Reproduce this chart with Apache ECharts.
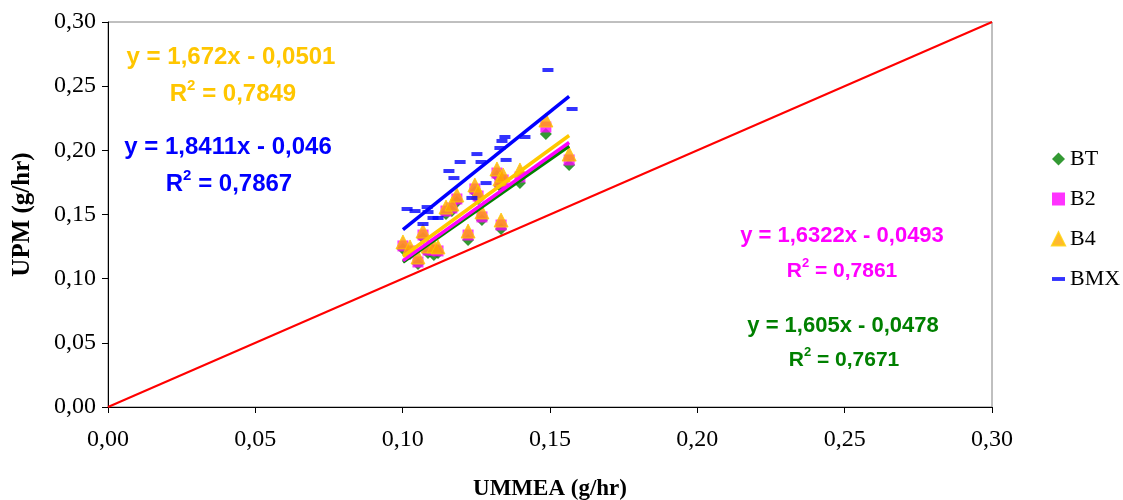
<!DOCTYPE html>
<html>
<head>
<meta charset="utf-8">
<script src="https://cdn.jsdelivr.net/npm/echarts@6/dist/echarts.min.js"></script>
<style>html,body{margin:0;padding:0;background:#fff}#c{width:1123px;height:500px}</style>
</head>
<body>
<div id="c"></div>
<script>
// ---- data ----
const seriesNames = ['BT', 'B2', 'B4', 'BMX'];
const ummea = [0.1001,0.1025,0.1052,0.1069,0.1086,0.1106,0.1120,0.1147,0.1167,0.1184,0.1222,0.1245,0.1256,0.1269,0.1320,0.1330,0.1341,0.1334,0.1398,0.1486,0.1565];
const upmBT = [0.1231,0.1192,0.1114,0.1317,0.1200,0.1184,0.1200,0.1504,0.1527,0.1597,0.1301,0.1675,0.1621,0.1457,0.1800,0.1722,0.1722,0.1387,0.1745,0.2127,0.1886];
const upmB2 = [0.1255,0.1216,0.1130,0.1340,0.1223,0.1223,0.1216,0.1527,0.1551,0.1621,0.1340,0.1699,0.1644,0.1481,0.1823,0.1745,0.1769,0.1418,0.1792,0.2182,0.1925];
const upmB4 = [0.1286,0.1247,0.1169,0.1371,0.1255,0.1255,0.1247,0.1558,0.1582,0.1652,0.1371,0.1730,0.1675,0.1520,0.1855,0.1777,0.1808,0.1457,0.1847,0.2236,0.1971];
const ummeaBMX = [0.1493,0.1575,0.1347,0.1415,0.1337,0.1330,0.1351,0.1252,0.1266,0.1195,0.1157,0.1174,0.1283,0.1235,0.1015,0.1042,0.1083,0.1086,0.1103,0.1120,0.1069];
const upmBMX = [0.2626,0.2322,0.2104,0.2104,0.2073,0.2018,0.1925,0.1971,0.1909,0.1909,0.1839,0.1784,0.1745,0.1629,0.1543,0.1527,0.1558,0.1519,0.1473,0.1473,0.1426];
// trend lines (from the printed equations)
const slopes = [1.605, 1.6322, 1.672, 1.8411];
const intercepts = [-0.0478, -0.0493, -0.0501, -0.046];
const rSquared = ['0,7671', '0,7861', '0,7849', '0,7867'];
const trendRange = [0.1001, 0.1565];

const colors = ['#008000', '#FF00FF', '#FFA500', '#0000FF'];
const lineColors = ['#008000', '#FF00FF', '#FFC800', '#0000FF'];
const textColors = ['#008000', '#FF00FF', '#FFC600', '#0000FF'];

function pairs(xs, ys) { return xs.map((x, i) => [x, ys[i]]); }
function trend(k) { return trendRange.map(x => [x, slopes[k] * x + intercepts[k]]); }
function fmtNum(v) { return v.toFixed(4).replace(/0+$/, '').replace('.', ','); }
function eqText(k) {
  const b = intercepts[k];
  return 'y = ' + fmtNum(slopes[k]) + 'x ' + (b < 0 ? '- ' : '+ ') + fmtNum(Math.abs(b));
}

const chart = echarts.init(document.getElementById('c'));
const axisLabelFmt = v => v.toFixed(2).replace('.', ',');
const serif = '"Liberation Serif", "Times New Roman", serif';
const sans = '"Liberation Sans", Arial, sans-serif';

const eqPos = [ // [x, y of equation line, x, y of R² line, eq font, R² font]
  [843, 326, 844, 358, 22, 21],
  [842, 236, 842, 269, 22, 21],
  [231, 57, 233, 92, 24, 24],
  [228, 147, 229, 182, 24, 24]
];
const graphics = [];
for (let k = 0; k < 4; k++) {
  const c = textColors[k];
  const f1 = eqPos[k][4], f2 = eqPos[k][5];
  graphics.push({
    type: 'text', x: eqPos[k][0], y: eqPos[k][1],
    style: { text: eqText(k), fill: c, font: 'bold ' + f1 + 'px ' + sans, textAlign: 'center', textVerticalAlign: 'middle' }
  });
  graphics.push({
    type: 'text', x: eqPos[k][2], y: eqPos[k][3],
    style: {
      text: '{a|R}{s|2}{a| = ' + rSquared[k] + '}',
      textAlign: 'center', textVerticalAlign: 'middle',
      rich: {
        a: { fill: c, fontSize: f2, fontWeight: 'bold', fontFamily: sans, lineHeight: f2 + 4, verticalAlign: 'bottom' },
        s: { fill: c, fontSize: Math.round(f2 * 0.62), fontWeight: 'bold', fontFamily: sans, lineHeight: f2 + 4, verticalAlign: 'top', padding: [0, 0, Math.round(f2 * 0.4), 0] }
      }
    }
  });
}

const symbols = ['diamond', 'rect', 'triangle', 'rect'];
const symbolSizes = [[12, 12], [11, 11], [14, 14], [11, 4]];
const scatterData = [pairs(ummea, upmBT), pairs(ummea, upmB2), pairs(ummea, upmB4), pairs(ummeaBMX, upmBMX)];

const series = [];
for (let k = 0; k < 4; k++) {
  series.push({
    name: seriesNames[k], type: 'scatter', data: scatterData[k],
    symbol: symbols[k], symbolSize: symbolSizes[k],
    itemStyle: k === 2 ? { color: colors[k], borderColor: '#FFCC00', borderWidth: 1 } : { color: colors[k] },
    z: 2 + k, silent: true
  });
}
for (let k = 0; k < 4; k++) {
  series.push({
    name: seriesNames[k] + ' trend', type: 'line', data: trend(k), symbol: 'none',
    lineStyle: { color: lineColors[k], width: 3.5 }, z: 10 + k, silent: true
  });
}
series.push({
  name: 'y=x', type: 'line', data: [[0, 0], [0.3, 0.3]], symbol: 'none',
  lineStyle: { color: '#FF0000', width: 2 }, z: 1, silent: true
});

chart.setOption({
  animation: false,
  backgroundColor: '#fff',
  grid: { left: 108, right: 131, top: 22, bottom: 93, show: true, borderColor: '#808080', borderWidth: 1, outerBoundsMode: 'none', containLabel: false },
  xAxis: {
    type: 'value', min: 0, max: 0.3, interval: 0.05,
    name: 'UMMEA (g/hr)', nameLocation: 'middle', nameGap: 71,
    nameTextStyle: { fontFamily: serif, fontSize: 23, fontWeight: 'bold', color: '#000' },
    axisLine: { show: true, onZero: false, lineStyle: { color: '#000', width: 1 } },
    axisTick: { show: true, length: 6, lineStyle: { color: '#000' } },
    axisLabel: { formatter: axisLabelFmt, fontFamily: serif, fontSize: 24, color: '#000', margin: 21 },
    splitLine: { show: false }
  },
  yAxis: {
    type: 'value', min: 0, max: 0.3, interval: 0.05,
    name: 'UPM (g/hr)', nameLocation: 'middle', nameGap: 73,
    nameTextStyle: { fontFamily: serif, fontSize: 25, fontWeight: 'bold', color: '#000' },
    axisLine: { show: true, onZero: false, lineStyle: { color: '#000', width: 1 } },
    axisTick: { show: true, length: 6, lineStyle: { color: '#000' } },
    axisLabel: { formatter: axisLabelFmt, fontFamily: serif, fontSize: 24, color: '#000', margin: 12 },
    splitLine: { show: false }
  },
  legend: {
    orient: 'vertical', left: 1046, top: 143, itemGap: 18, itemWidth: 13, itemHeight: 13,
    textStyle: { fontFamily: serif, fontSize: 22, color: '#000', lineHeight: 22 },
    data: [
      { name: 'BT', icon: 'diamond' },
      { name: 'B2', icon: 'rect' },
      { name: 'B4', icon: 'triangle' },
      { name: 'BMX', icon: 'path://M0,0L10,0L10,3L0,3Z' }
    ],
    selectedMode: false
  },
  graphic: graphics,
  series: series
});
</script>
</body>
</html>
